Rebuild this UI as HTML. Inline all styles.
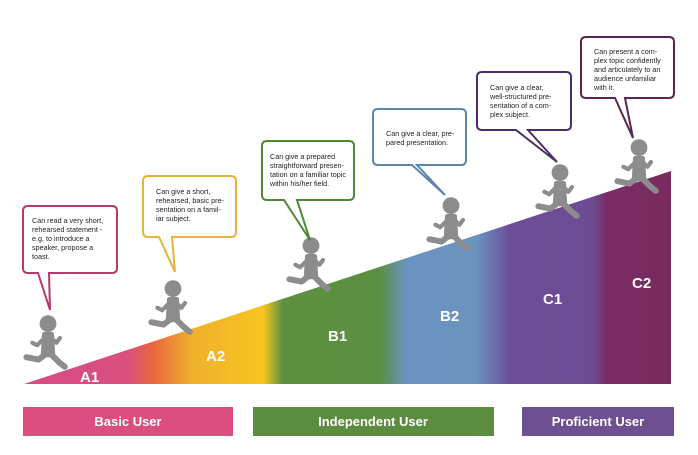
<!DOCTYPE html><html><head><style>body{margin:0;background:#fff}svg{display:block}</style></head><body>
<svg width="698" height="455" viewBox="0 0 698 455" xmlns="http://www.w3.org/2000/svg" font-family="Liberation Sans, sans-serif">
<defs>
<linearGradient id="g" gradientUnits="userSpaceOnUse" x1="24" y1="0" x2="671" y2="0">
<stop offset="0" stop-color="#d94a86"/><stop offset="0.16" stop-color="#d9507e"/>
<stop offset="0.2" stop-color="#e9673e"/><stop offset="0.26" stop-color="#f0b02c"/>
<stop offset="0.37" stop-color="#f7c51f"/><stop offset="0.4" stop-color="#5e9040"/>
<stop offset="0.55" stop-color="#5b8f42"/><stop offset="0.59" stop-color="#6993c0"/>
<stop offset="0.7" stop-color="#6a93bf"/><stop offset="0.75" stop-color="#6c4f98"/>
<stop offset="0.88" stop-color="#6c4b92"/><stop offset="0.9" stop-color="#7b2c66"/>
<stop offset="1" stop-color="#7a2a5f"/></linearGradient>
<g id="r" fill="#8c8c8c" stroke="#8c8c8c" stroke-linecap="round" stroke-linejoin="round" transform="scale(1.2)">
<circle cx="0" cy="-22" r="7" stroke="none"/>
<path d="M-3-13 L3-13 L4 4 L-4 4Z" stroke-width="4"/>
<path d="M0 2 L-8 8 L-18 6" fill="none" stroke-width="5"/>
<path d="M1 2 L9 10 L14 14" fill="none" stroke-width="5"/>
<path d="M-2-11 L-9-4 L-13-6" fill="none" stroke-width="3.5"/>
<path d="M2-11 L7-6 L10-10" fill="none" stroke-width="3.5"/>
</g>
</defs>
<polygon points="24,384 671,171 671,384" fill="url(#g)"/>
<g fill="#fff" font-weight="bold" font-size="15">
<text x="80" y="382">A1</text><text x="206" y="361">A2</text><text x="328" y="341">B1</text>
<text x="440" y="321">B2</text><text x="543" y="304">C1</text><text x="632" y="288">C2</text></g>
<use href="#r" x="48" y="350"/><use href="#r" x="173" y="315"/><use href="#r" x="311" y="272"/>
<use href="#r" x="451" y="232"/><use href="#r" x="560" y="199"/><use href="#r" x="639" y="174"/>
<g fill="#fff" stroke-width="2">
<path d="M28 206 H112 Q117 206 117 211 V268 Q117 273 112 273 H49 L50 310 L38 273 H28 Q23 273 23 268 V211 Q23 206 28 206Z" stroke="#b8386e"/>
<path d="M148 176 H231 Q236 176 236 181 V232 Q236 237 231 237 H172 L175 272 L159 237 H148 Q143 237 143 232 V181 Q143 176 148 176Z" stroke="#e6b43a"/>
<path d="M267 141 H349 Q354 141 354 146 V195 Q354 200 349 200 H297 L310 240 L284 200 H267 Q262 200 262 195 V146 Q262 141 267 141Z" stroke="#4e8a36"/>
<path d="M378 109 H461 Q466 109 466 114 V160 Q466 165 461 165 H417 L445 195 L412 165 H378 Q373 165 373 160 V114 Q373 109 378 109Z" stroke="#5b86ae"/>
<path d="M482 72 H566 Q571 72 571 77 V125 Q571 130 566 130 H528 L557 162 L516 130 H482 Q477 130 477 125 V77 Q477 72 482 72Z" stroke="#4a2e6a"/>
<path d="M586 37 H669 Q674 37 674 42 V93 Q674 98 669 98 H625 L633 138 L615 98 H586 Q581 98 581 93 V42 Q581 37 586 37Z" stroke="#5a2552"/>
</g>
<g font-size="7.2" fill="#222">
<text x="32" y="223">Can read a very short,</text><text x="32" y="232">rehearsed statement -</text><text x="32" y="241">e.g. to introduce a</text><text x="32" y="250">speaker, propose a</text><text x="32" y="259">toast.</text>
<text x="156" y="194">Can give a short,</text><text x="156" y="203">rehearsed, basic pre-</text><text x="156" y="212">sentation on a famil-</text><text x="156" y="221">iar subject.</text>
<text x="270" y="159">Can give a prepared</text><text x="270" y="168">straightforward presen-</text><text x="270" y="177">tation on a familiar topic</text><text x="270" y="186">within his/her field.</text>
<text x="386" y="136">Can give a clear, pre-</text><text x="386" y="145">pared presentation.</text>
<text x="490" y="90">Can give a clear,</text><text x="490" y="99">well-structured pre-</text><text x="490" y="108">sentation of a com-</text><text x="490" y="117">plex subject.</text>
<text x="594" y="54">Can present a com-</text><text x="594" y="63">plex topic confidently</text><text x="594" y="72">and articulately to an</text><text x="594" y="81">audience unfamiliar</text><text x="594" y="90">with it.</text>
</g>
<rect x="23" y="407" width="210" height="29" fill="#dc4e80"/>
<rect x="253" y="407" width="241" height="29" fill="#5b8c3f"/>
<rect x="522" y="407" width="152" height="29" fill="#6e4f91"/>
<g fill="#fff" font-weight="bold" font-size="13" text-anchor="middle">
<text x="128" y="426">Basic User</text><text x="373" y="426">Independent User</text><text x="598" y="426">Proficient User</text></g>
</svg></body></html>
